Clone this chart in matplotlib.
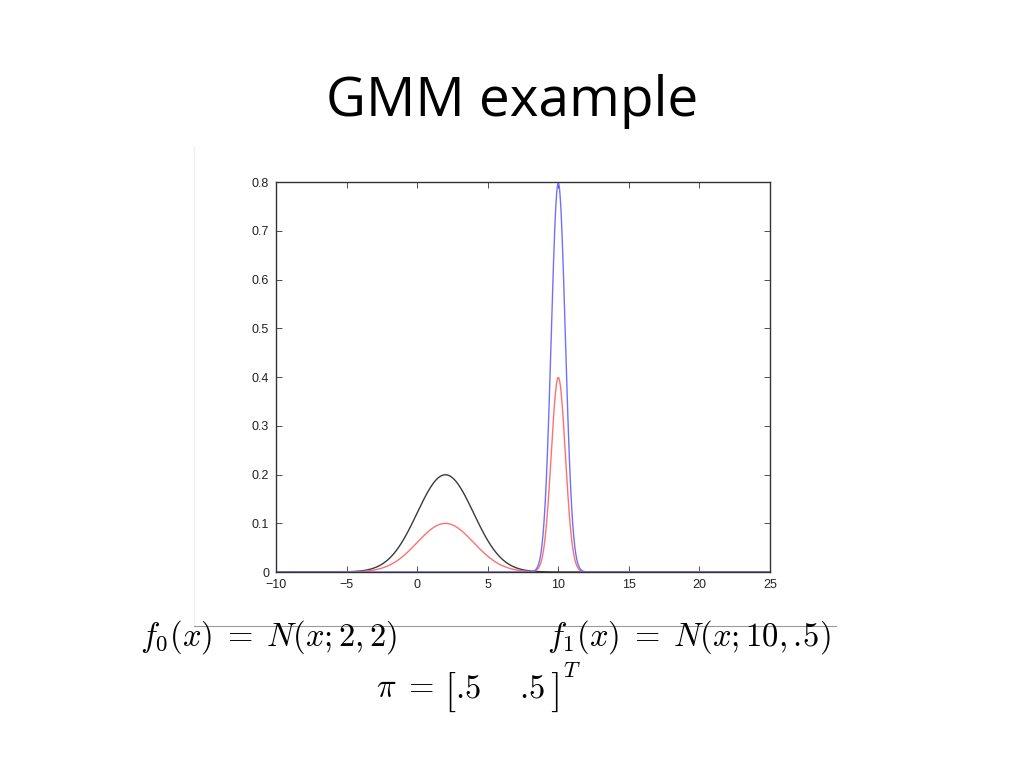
import numpy as np
import matplotlib
matplotlib.use("Agg")
import matplotlib.pyplot as plt
from matplotlib.lines import Line2D

# parameters: f0 = N(x;2,2), f1 = N(x;10,.5), pi = [.5 .5]
means = [2.0, 10.0]
sigmas = [2.0, 0.5]
weights = [0.5, 0.5]
x_range = [-10, 25]

x_ticks = [-10, -5, 0, 5, 10, 15, 20, 25]
y_ticks = [0, 0.1, 0.2, 0.3, 0.4, 0.5, 0.6, 0.7, 0.8]


def normal_pdf(x, mu, s):
    return np.exp(-0.5 * ((x - mu) / s) ** 2) / (s * np.sqrt(2 * np.pi))


xs = np.linspace(x_range[0], x_range[1], 2000)
f0 = normal_pdf(xs, means[0], sigmas[0])
f1 = normal_pdf(xs, means[1], sigmas[1])
mix = weights[0] * f0 + weights[1] * f1

plt.rcParams['mathtext.fontset'] = 'cm'

fig = plt.figure(figsize=(10.24, 7.68), dpi=100)
fig.patch.set_facecolor('white')

# slide title
fig.text(0.5, 0.868, "GMM example", ha='center', va='center',
         fontsize=39.5, family='Open Sans', color='black')

# faint edges of the pasted figure image
fig.add_artist(Line2D([0.1895, 0.1895], [0.185, 0.808], color='#f0f0f0', lw=1))
fig.add_artist(Line2D([0.1895, 0.816], [0.185, 0.185], color='#9a9a9a', lw=0.8))

ax = fig.add_axes([0.2695, 0.2552, 0.4825, 0.5078])
ax.plot(xs, f0, color='#3a3a3a', lw=1.0)
ax.plot(xs, mix, color='#ff7070', lw=1.0)
ax.plot(xs, f1, color='#7070ff', lw=1.0)

ax.set_xlim(x_range)
ax.set_ylim(0, 0.8)
ax.set_xticks(x_ticks)
ax.set_yticks(y_ticks)
ax.set_xticklabels(['\u221210', '\u22125', '0', '5', '10', '15', '20', '25'])
ax.set_yticklabels(['0', '0.1', '0.2', '0.3', '0.4', '0.5', '0.6', '0.7', '0.8'])
ax.tick_params(direction='in', length=4, width=0.6, top=True, right=True,
               labelsize=9, colors='#333333', labelcolor='#222222')
ax.tick_params(axis='x', pad=5)
ax.tick_params(axis='y', pad=5)
for lab in ax.get_xticklabels() + ax.get_yticklabels():
    lab.set_family('Liberation Sans')
for sp in ax.spines.values():
    sp.set_color('#333333')
    sp.set_linewidth(1.0)

# formulas under the plot
fs = 23.5
fig.text(0.137, 0.159, r"$f_0(x)\;=\;N(x;2,2)$", fontsize=fs,
         ha='left', va='baseline')
fig.text(0.534, 0.159, r"$f_1(x)\;=\;N(x;10,.\!5)$", fontsize=fs,
         ha='left', va='baseline')
fig.text(0.367, 0.092, r"$\pi\;=$", fontsize=fs, ha='left', va='baseline')
fig.text(0.434, 0.086, r"$[$", fontsize=29, ha='left', va='baseline')
fig.text(0.444, 0.092, r"$.\!5$", fontsize=fs, ha='left', va='baseline')
fig.text(0.507, 0.092, r"$.\!5$", fontsize=fs, ha='left', va='baseline')
fig.text(0.537, 0.086, r"$]$", fontsize=29, ha='left', va='baseline')
fig.text(0.550, 0.118, r"$T$", fontsize=16, ha='left', va='baseline')

plt.savefig('out.png', dpi=100)
